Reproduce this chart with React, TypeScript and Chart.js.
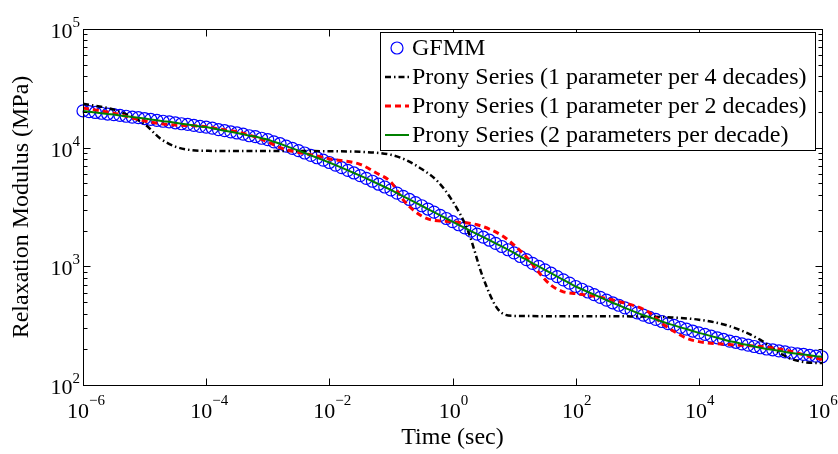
import React, { useEffect, useRef } from 'react';
import { Chart, registerables } from 'chart.js';

Chart.register(...registerables);

const FONT = '"Liberation Serif", "Times New Roman", Times, serif';

const seriesNames = [
  'GFMM',
  'Prony Series (1 parameter per 4 decades)',
  'Prony Series (1 parameter per 2 decades)',
  'Prony Series (2 parameters per decade)',
];

// GFMM samples: one marker every 0.1 decade of time, 10^-6 .. 10^6 s
const gfmmLogTime = Array.from({ length: 121 }, (_, i) => -6 + i / 10);
const gfmmModulus = [
  20400, 20100, 19800, 19500, 19200, 19000, 18700, 18400, 18100, 17900,
  17600, 17300, 17000, 16700, 16500, 16200, 15900, 15700, 15400, 15100,
  14900, 14600, 14200, 13900, 13600, 13300, 13000, 12600, 12400, 12000,
  11700, 11200, 10800, 10300, 9860, 9440, 9020, 8610, 8220, 7850,
  7500, 7130, 6780, 6440, 6120, 5820, 5510, 5210, 4920, 4660,
  4410, 4140, 3890, 3660, 3440, 3240, 3040, 2860, 2690, 2530,
  2380, 2240, 2110, 1980, 1870, 1760, 1660, 1560, 1470, 1380,
  1300, 1210, 1140, 1060, 998, 933, 875, 820, 769, 721,
  676, 641, 608, 577, 547, 519, 493, 470, 447, 426,
  405, 388, 372, 357, 343, 329, 318, 306, 296, 285,
  275, 267, 258, 250, 242, 234, 229, 222, 217, 211,
  206, 201, 198, 194, 190, 186, 183, 181, 178, 175,
  173,
];

// Prony series, 1 parameter per 4 decades (black dash-dot)
const prony4LogTime = [-6, -5.5, -5, -4.75, -4.5, -4.25, -4, -3, -2, -1.5, -1, -0.75, -0.5, -0.25, 0, 0.25, 0.5, 0.75, 1, 2, 3, 3.5, 4, 4.5, 5, 5.25, 5.5, 5.75, 6];
const prony4Modulus = [23400, 20900, 15800, 12000, 10200, 9550, 9400, 9380, 9330, 9230, 8710, 7850, 6610, 5250, 3550, 2000, 794, 427, 382, 380, 378, 372, 355, 313, 240, 195, 166, 155, 153];

// Prony series, 1 parameter per 2 decades (red dashed)
const prony2LogTime = [-6, -5.5, -5.2, -5, -4.7, -4.5, -4.2, -4, -3.7, -3.5, -3.2, -3, -2.8, -2.5, -2.2, -2, -1.5, -1.25, -1, -0.8, -0.6, -0.4, 0, 0.4, 0.8, 1, 1.2, 1.4, 1.6, 1.8, 2, 2.4, 2.8, 3, 3.2, 3.4, 3.6, 3.8, 4, 4.5, 5, 5.4, 5.8, 6];
const prony2Modulus = [21600, 19500, 17800, 16800, 15800, 15500, 15300, 15000, 14100, 13600, 12300, 11200, 10000, 9120, 8510, 8040, 7240, 6170, 5130, 3630, 2880, 2510, 2370, 2240, 1820, 1510, 1200, 891, 692, 610, 589, 550, 490, 457, 407, 331, 282, 248, 232, 219, 211, 197, 174, 164];

// Prony series, 2 parameters per decade (green solid) - coincides with GFMM
const pronyFineLogTime = gfmmLogTime;
const pronyFineModulus = gfmmModulus;

const xTickExponents = [-6, -4, -2, 0, 2, 4, 6];
const yTickExponents = [2, 3, 4, 5];
const xTitle = 'Time (sec)';
const yTitle = 'Relaxation Modulus (MPa)';

const COLORS = ['#0000ff', '#000000', '#ff0000', '#008000'];
const DASHES: number[][] = [[], [6, 3, 1.5, 3], [6, 4], []];
const WIDTHS = [1.2, 2.5, 3, 2];

const toPoints = (logT: number[], vals: number[]) => logT.map((e, i) => ({ x: Math.pow(10, e), y: vals[i] }));

const decorPlugin = {
  id: 'decor',
  afterDraw(chart: any) {
    const { ctx, chartArea } = chart;
    const { left, right, top, bottom } = chartArea;
    const xs = chart.scales.x;
    const ys = chart.scales.y;
    ctx.save();
    ctx.strokeStyle = '#000';
    ctx.lineWidth = 1;
    ctx.setLineDash([]);
    const L = Math.round(left) + 0.5;
    const R = Math.round(right) + 0.5;
    const T = Math.round(top) + 0.5;
    const B = Math.round(bottom) + 0.5;
    ctx.strokeRect(L, T, R - L, B - T);

    ctx.beginPath();
    // x ticks (bottom & top)
    for (const e of xTickExponents) {
      const px = Math.round(xs.getPixelForValue(Math.pow(10, e))) + 0.5;
      ctx.moveTo(px, B); ctx.lineTo(px, B - 7);
      ctx.moveTo(px, T); ctx.lineTo(px, T + 7);
    }
    // y ticks (left & right) with minor ticks
    for (let d = 2; d <= 5; d++) {
      for (let m = 1; m <= 9; m++) {
        if (d === 5 && m > 1) break;
        const py = Math.round(ys.getPixelForValue(m * Math.pow(10, d))) + 0.5;
        const len = m === 1 ? 7 : 4;
        ctx.moveTo(L, py); ctx.lineTo(L + len, py);
        ctx.moveTo(R, py); ctx.lineTo(R - len, py);
      }
    }
    ctx.stroke();

    ctx.fillStyle = '#000';
    const bigFont = `22px ${FONT}`;
    const supFont = `15px ${FONT}`;
    ctx.textBaseline = 'alphabetic';
    // x tick labels
    for (const e of xTickExponents) {
      const px = xs.getPixelForValue(Math.pow(10, e));
      const expStr = e < 0 ? '\u2212' + Math.abs(e) : String(e);
      ctx.font = bigFont;
      const w10 = ctx.measureText('10').width;
      ctx.font = supFont;
      const wExp = ctx.measureText(expStr).width;
      const start = px - (w10 + wExp) / 2 + (e < 0 ? 3 : 1);
      ctx.textAlign = 'left';
      ctx.font = bigFont;
      ctx.fillText('10', start, 418);
      ctx.font = supFont;
      ctx.fillText(expStr, start + w10, 405);
    }
    // y tick labels
    for (const e of yTickExponents) {
      const py = ys.getPixelForValue(Math.pow(10, e));
      const expStr = String(e);
      ctx.font = supFont;
      const wExp = ctx.measureText(expStr).width;
      ctx.textAlign = 'right';
      ctx.fillText(expStr, 80, py - 2);
      ctx.font = bigFont;
      ctx.fillText('10', 80 - wExp, py + 9);
    }
    // axis titles
    ctx.font = `24px ${FONT}`;
    ctx.textAlign = 'center';
    ctx.textBaseline = 'middle';
    ctx.fillText(xTitle, (left + right) / 2, 438);
    ctx.save();
    ctx.translate(22, (top + bottom) / 2);
    ctx.rotate(-Math.PI / 2);
    ctx.fillText(yTitle, 0, 0);
    ctx.restore();

    // legend
    const lx = 380.5, ly = 32.5, lw = 435, lh = 118;
    ctx.fillStyle = '#fff';
    ctx.fillRect(lx, ly, lw, lh);
    ctx.strokeStyle = '#000';
    ctx.lineWidth = 1;
    ctx.strokeRect(lx, ly, lw, lh);
    const rowY = [48, 77, 106, 135];
    seriesNames.forEach((name, i) => {
      const yy = rowY[i];
      ctx.strokeStyle = COLORS[i];
      ctx.lineWidth = WIDTHS[i];
      ctx.setLineDash(DASHES[i]);
      if (i === 0) {
        ctx.beginPath();
        ctx.arc(397, yy, 6, 0, Math.PI * 2);
        ctx.stroke();
      } else {
        ctx.beginPath();
        ctx.moveTo(385, yy);
        ctx.lineTo(409, yy);
        ctx.stroke();
      }
      ctx.setLineDash([]);
      ctx.fillStyle = '#000';
      ctx.font = `24px ${FONT}`;
      ctx.textAlign = 'left';
      ctx.textBaseline = 'middle';
      ctx.fillText(name, 412, yy + 1);
    });
    ctx.restore();
  },
};

export default function App() {
  const ref = useRef<HTMLCanvasElement | null>(null);
  useEffect(() => {
    if (!ref.current) return;
    const chart = new Chart(ref.current, {
      type: 'line',
      data: {
        datasets: [
          {
            label: seriesNames[3],
            data: toPoints(pronyFineLogTime, pronyFineModulus),
            borderColor: COLORS[3],
            borderWidth: WIDTHS[3],
            pointRadius: 0,
            fill: false,
            order: 1,
          },
          {
            label: seriesNames[2],
            data: toPoints(prony2LogTime, prony2Modulus),
            borderColor: COLORS[2],
            borderWidth: WIDTHS[2],
            borderDash: DASHES[2],
            pointRadius: 0,
            cubicInterpolationMode: 'monotone',
            fill: false,
            order: 2,
          },
          {
            label: seriesNames[1],
            data: toPoints(prony4LogTime, prony4Modulus),
            borderColor: COLORS[1],
            borderWidth: WIDTHS[1],
            borderDash: DASHES[1],
            pointRadius: 0,
            cubicInterpolationMode: 'monotone',
            fill: false,
            order: 3,
          },
          {
            label: seriesNames[0],
            data: toPoints(gfmmLogTime, gfmmModulus),
            showLine: false,
            borderColor: COLORS[0],
            backgroundColor: 'rgba(0,0,0,0)',
            pointStyle: 'circle',
            pointRadius: 6,
            pointBorderWidth: WIDTHS[0],
            pointBorderColor: COLORS[0],
            pointBackgroundColor: 'rgba(0,0,0,0)',
            clip: false,
            order: 4,
          },
        ] as any,
      },
      options: {
        animation: false,
        responsive: false,
        layout: { padding: { left: 83, right: 16, top: 29, bottom: 69 } },
        plugins: { legend: { display: false }, tooltip: { enabled: false } },
        scales: {
          x: { type: 'logarithmic', min: 1e-6, max: 1e6, display: false },
          y: { type: 'logarithmic', min: 100, max: 1e5, display: false },
        },
      },
      plugins: [decorPlugin],
    });
    return () => chart.destroy();
  }, []);
  return (
    <div style={{ position: 'fixed', left: 0, top: 0, width: 838, height: 454, background: '#fff' }}>
      <canvas ref={ref} width={838} height={454} />
    </div>
  );
}
